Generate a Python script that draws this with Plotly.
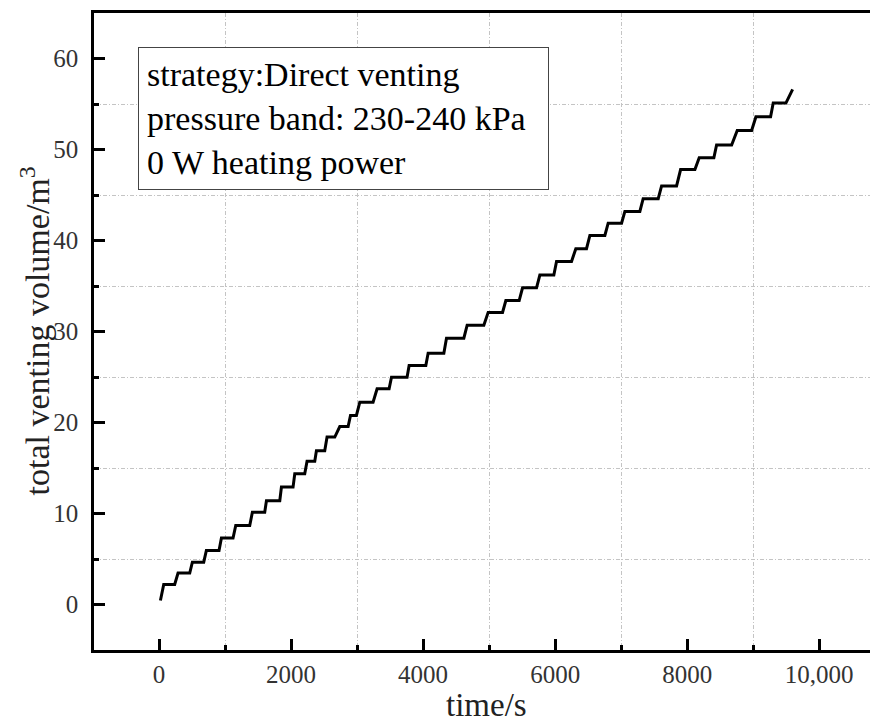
import plotly.graph_objects as go

# staircase: each vent holds a flat step, then rises
START_TIME = 21
START_VOLUME = 0.44
STEP_START = [71, 288, 505, 717, 945, 1162, 1414, 1627, 1854, 2056, 2242, 2384,
              2545, 2738, 2900, 3041, 3303, 3521, 3788, 4076, 4354, 4667, 4985,
              5253, 5506, 5768, 6021, 6313, 6526, 6803, 7056, 7333, 7612, 7900,
              8182, 8445, 8758, 9041, 9303]
STEP_END = [237, 465, 677, 909, 1121, 1374, 1601, 1829, 2030, 2207, 2359, 2510,
            2662, 2864, 2990, 3242, 3485, 3757, 4041, 4314, 4617, 4920, 5203,
            5455, 5718, 5980, 6248, 6475, 6753, 7006, 7283, 7561, 7839, 8117,
            8404, 8673, 8976, 9263, 9495]
STEP_VOLUME = [2.2, 3.45, 4.65, 5.93, 7.3, 8.68, 10.15, 11.4, 12.9, 14.36, 15.75,
               16.9, 18.4, 19.56, 20.77, 22.23, 23.7, 24.98, 26.26, 27.6, 29.26,
               30.7, 32.1, 33.4, 34.8, 36.2, 37.7, 39.1, 40.55, 41.9, 43.2, 44.6,
               46.0, 47.8, 49.1, 50.5, 52.1, 53.6, 55.1]
END_TIME = 9597
END_VOLUME = 56.6

X_TICK_VALS = [0, 2000, 4000, 6000, 8000, 10000]
X_TICK_TEXT = ["0", "2000", "4000", "6000", "8000", "10,000"]
X_MINOR_VALS = [1000, 3000, 5000, 7000, 9000]
Y_TICK_VALS = [0, 10, 20, 30, 40, 50, 60]
Y_MINOR_VALS = [5, 15, 25, 35, 45, 55]

NOTE_LINES = ["strategy:Direct venting", "pressure band: 230-240 kPa", "0 W heating power"]

FONT = "Liberation Serif, Times New Roman, serif"
GRID_DASH = "4px,2px,1px,2px"

t = [START_TIME]
v = [START_VOLUME]
for s, e, vol in zip(STEP_START, STEP_END, STEP_VOLUME):
    t += [s, e]
    v += [vol, vol]
t.append(END_TIME)
v.append(END_VOLUME)

fig = go.Figure(
    go.Scatter(x=t, y=v, mode="lines", line=dict(color="black", width=3), showlegend=False)
)

axis_common = dict(
    showline=True, linecolor="black", linewidth=2.5,
    ticks="inside", ticklen=11, tickwidth=2.5, tickcolor="black",
    showgrid=False, zeroline=False, automargin=False,
    tickfont=dict(family=FONT, size=25, color="#333"),
)
minor_common = dict(ticks="inside", ticklen=5, tickwidth=2.5, tickcolor="black",
                    showgrid=True, gridcolor="#c4c4c4", griddash=GRID_DASH, gridwidth=1)

fig.update_xaxes(
    **axis_common,
    range=[-985, 10890],
    tickvals=X_TICK_VALS, ticktext=X_TICK_TEXT,
    mirror=True,
    minor=dict(tickvals=X_MINOR_VALS, **minor_common),
)
fig.update_yaxes(
    **axis_common,
    range=[-5, 65],
    tickvals=Y_TICK_VALS,
    ticklabelstandoff=8,
    minor=dict(tickvals=Y_MINOR_VALS, **minor_common),
)

# axis titles placed by hand so the plot area keeps its size
fig.add_annotation(
    xref="paper", yref="paper", x=0.5, y=0, yshift=-55, xanchor="center", yanchor="middle",
    text="time/s", showarrow=False, font=dict(family=FONT, size=33, color="#222"),
)
fig.add_annotation(
    xref="paper", yref="paper", x=0, y=0.5, xshift=-60, xanchor="center", yanchor="middle",
    text="total venting volume/m<sup>3</sup>", textangle=-90, showarrow=False,
    font=dict(family=FONT, size=34, color="#222"),
)

fig.add_annotation(
    xref="paper", yref="paper", x=0.056, y=0.947, xanchor="left", yanchor="top",
    text="<br>".join(NOTE_LINES), align="left", showarrow=False, width=393,
    font=dict(family=FONT, size=34, color="black"),
    bordercolor="#444", borderwidth=1, borderpad=8, bgcolor="white",
)

# page body has an 8px margin, so the figure is sized to fit inside it
fig.update_layout(
    width=870, height=719,
    margin=dict(l=86, r=0, t=5, b=77),
    plot_bgcolor="white", paper_bgcolor="white",
)

fig.write_html("out.html")
